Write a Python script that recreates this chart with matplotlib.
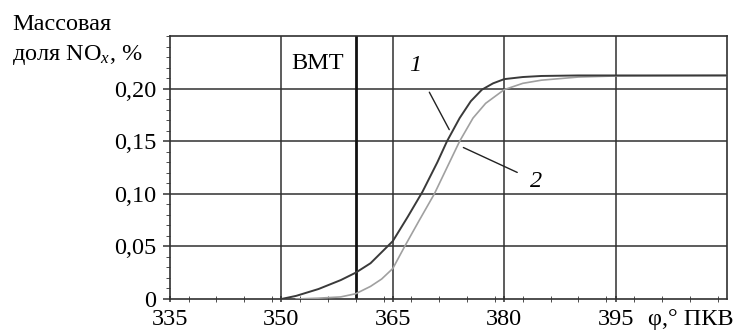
import matplotlib
matplotlib.use('Agg')
import matplotlib.pyplot as plt
from matplotlib.ticker import MultipleLocator, FuncFormatter

plt.rcParams['font.family'] = ['Liberation Serif', 'DejaVu Serif']
plt.rcParams['mathtext.fontset'] = 'custom'
plt.rcParams['mathtext.rm'] = 'Liberation Serif'
plt.rcParams['mathtext.it'] = 'Liberation Serif:italic'

# curve 1 (dark)
phi1 = [350, 352, 355, 358, 360, 362, 365, 367, 369, 371, 372.3, 374, 375.5,
        377, 378.5, 380, 382.5, 385, 390, 400, 410]
nox1 = [0, 0.003, 0.0095, 0.018, 0.025, 0.034, 0.055, 0.078, 0.102, 0.130, 0.150,
        0.172, 0.188, 0.199, 0.205, 0.209, 0.211, 0.212, 0.2125, 0.2125, 0.2125]

# curve 2 (light)
phi2 = [352, 355, 358, 360, 362, 363.5, 365, 366.6, 368.5, 370.6, 372.3, 374,
        375.8, 377.5, 380, 382.5, 385, 390, 395, 410]
nox2 = [0, 0.0008, 0.002, 0.005, 0.012, 0.019, 0.029, 0.05, 0.074, 0.10, 0.125,
        0.150, 0.172, 0.186, 0.199, 0.205, 0.208, 0.211, 0.212, 0.2125]

bmt = 360
xticks = [335, 350, 365, 380, 395]
yticks = [0, 0.05, 0.10, 0.15, 0.20]

fs = 17.5

fig = plt.figure(figsize=(7.34, 3.33), dpi=100)
ax = fig.add_axes([0.2316, 0.1021, 0.7589, 0.7898])

gc = '#303030'
for x in xticks[1:]:
    ax.axvline(x, color=gc, lw=1.1, zorder=1)
for y in yticks[1:]:
    ax.axhline(y, color=gc, lw=1.1, zorder=1)
ax.axvline(bmt, color='#111111', lw=2.0, zorder=2)

ax.plot(phi2, nox2, color='#a0a0a0', lw=1.2, zorder=3)
ax.plot(phi1, nox1, color='#3a3a3a', lw=1.4, zorder=4)

ax.set_xlim(335, 410)
ax.set_ylim(0, 0.25)
ax.set_xticks(xticks)
ax.set_yticks(yticks)
ax.xaxis.set_minor_locator(MultipleLocator(3.75))
ax.yaxis.set_minor_locator(MultipleLocator(0.01))

def yfmt(v, pos):
    if abs(v) < 1e-9:
        return '0'
    return ('%.2f' % v).replace('.', ',')

ax.yaxis.set_major_formatter(FuncFormatter(yfmt))
ax.tick_params(axis='both', which='major', labelsize=fs, color=gc, width=1.1)
ax.tick_params(axis='y', which='major', length=5, direction='out', pad=5)
ax.tick_params(axis='y', which='minor', length=3, direction='out', color=gc)
ax.tick_params(axis='x', which='major', length=5, direction='inout', pad=5)
ax.tick_params(axis='x', which='minor', length=5, direction='inout', color=gc)
for s in ax.spines.values():
    s.set_color(gc)
    s.set_linewidth(1.2)

ax.text(354.9, 0.224, 'ВМТ', ha='center', va='center', fontsize=fs)

ax.annotate('1', xy=(372.6, 0.161), xytext=(368.0, 0.222),
            fontsize=fs, style='italic', ha='center', va='center',
            arrowprops=dict(arrowstyle='-', color='#222222', lw=1.0,
                            shrinkA=11, shrinkB=0))
ax.annotate('2', xy=(374.5, 0.144), xytext=(384.3, 0.112),
            fontsize=fs, style='italic', ha='center', va='center',
            arrowprops=dict(arrowstyle='-', color='#222222', lw=1.0,
                            shrinkA=8, shrinkB=0))

fig.text(12 / 734, 1 - 24 / 333, 'Массовая', fontsize=fs, ha='left', va='center')
fig.text(12 / 734, 1 - 55 / 333, 'доля NO$_{\\mathit{x}}$, %', fontsize=fs,
         ha='left', va='center')
fig.text(734 / 734, 1 - 319 / 333, 'φ,° ПКВ', fontsize=fs, ha='right', va='center')

fig.savefig('out.png', dpi=100)
